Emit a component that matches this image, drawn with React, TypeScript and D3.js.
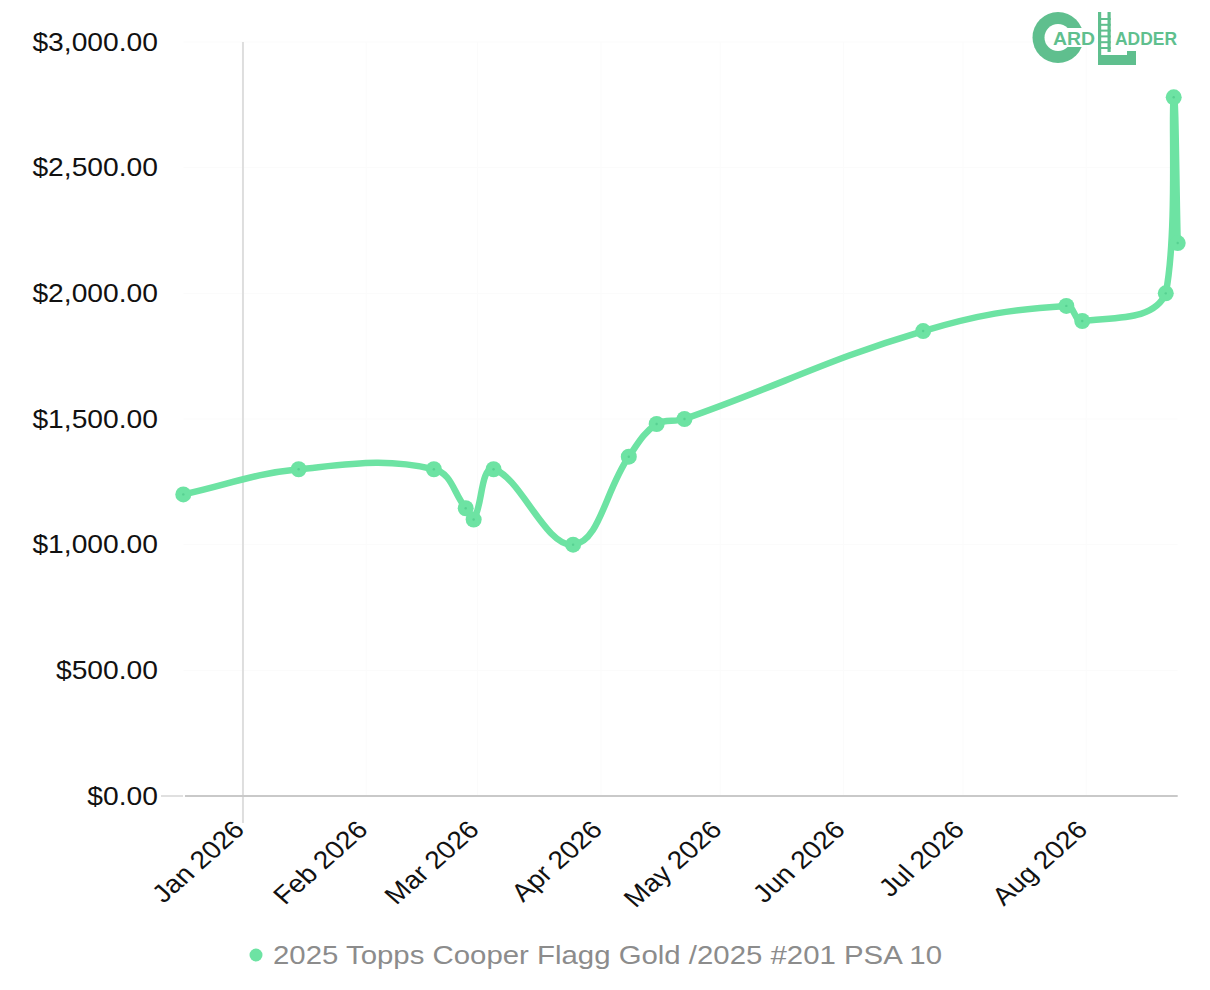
import React from 'react';
import * as d3 from 'd3';

const saleDates = ['2025-12-17', '2026-01-15', '2026-02-18', '2026-02-26', '2026-02-28', '2026-03-05', '2026-03-25', '2026-04-08', '2026-04-15', '2026-04-22', '2026-06-21', '2026-07-27', '2026-07-31', '2026-08-21', '2026-08-23', '2026-08-24'];
const salePrices = [1200, 1300, 1300, 1145, 1100, 1300, 1000, 1350, 1480, 1500, 1850, 1950, 1890, 2000, 2780, 2200];
const yTickValues = [0, 500, 1000, 1500, 2000, 2500, 3000];
const monthTickDates = ['2026-01-01', '2026-02-01', '2026-03-01', '2026-04-01', '2026-05-01', '2026-06-01', '2026-07-01', '2026-08-01'];
const seriesLabel = '2025 Topps Cooper Flagg Gold /2025 #201 PSA 10';

const W = 1210;
const H = 990;
const LEFT = 183.3;
const RIGHT = 1177.7;
const TOP = 42;
const BOTTOM = 796;
const SX = 1.13; // horizontal stretch of the reference rendering
const LINE = '#6de3a3';
const LOGO = '#5fbf8e';
const FONT = '"Liberation Sans", Arial, Helvetica, sans-serif';

const parse = d3.utcParse('%Y-%m-%d');

function chartJsCurve(tension: number) {
  return (context: any) => {
    let pts: [number, number][] = [];
    const cl = (v: number, lo: number, hi: number) => Math.max(lo, Math.min(hi, v));
    return {
      areaStart() {},
      areaEnd() {},
      lineStart() { pts = []; },
      point(x: number, y: number) { pts.push([+x, +y]); },
      lineEnd() {
        const n = pts.length;
        if (!n) return;
        const cps = pts.map((p, i) => {
          const prev = pts[i - 1] || p;
          const next = pts[i + 1] || p;
          const d01 = Math.hypot(p[0] - prev[0], p[1] - prev[1]);
          const d12 = Math.hypot(next[0] - p[0], next[1] - p[1]);
          let s01 = d01 / (d01 + d12);
          let s12 = d12 / (d01 + d12);
          if (isNaN(s01)) s01 = 0;
          if (isNaN(s12)) s12 = 0;
          const fa = tension * s01;
          const fb = tension * s12;
          return {
            prev: [cl(p[0] - fa * (next[0] - prev[0]), LEFT, RIGHT), cl(p[1] - fa * (next[1] - prev[1]), TOP, BOTTOM)],
            next: [cl(p[0] + fb * (next[0] - prev[0]), LEFT, RIGHT), cl(p[1] + fb * (next[1] - prev[1]), TOP, BOTTOM)],
          };
        });
        context.moveTo(pts[0][0], pts[0][1]);
        for (let i = 1; i < n; i++) {
          context.bezierCurveTo(cps[i - 1].next[0], cps[i - 1].next[1], cps[i].prev[0], cps[i].prev[1], pts[i][0], pts[i][1]);
        }
      },
    };
  };
}

export default function App() {
  const dates = saleDates.map((d) => parse(d) as Date);
  const data = dates.map((d, i) => ({ date: d, price: salePrices[i] }));
  const x = d3.scaleUtc().domain(d3.extent(dates) as [Date, Date]).range([LEFT, RIGHT]);
  const y = d3.scaleLinear().domain([0, 3000]).range([BOTTOM, TOP]);
  const months = monthTickDates.map((d) => parse(d) as Date);
  const fmtMoney = (v: number) => '$' + d3.format(',.2f')(v);
  const fmtMonth = d3.utcFormat('%b %Y');

  const line = d3.line<{ date: Date; price: number }>()
    .x((d) => x(d.date))
    .y((d) => y(d.price))
    .curve(chartJsCurve(0.4) as any);

  const cx = 1058;
  const cy = 37.5;
  const rungs = [18, 23.8, 29.6, 35.4, 41.2, 47];

  return (
    <svg width={W} height={H} style={{ position: 'absolute', left: 0, top: 0, background: '#fff' }}>
      <defs>
        <mask id="cmask">
          <rect x={1020} y={0} width={80} height={80} fill="#000" />
          <circle cx={cx} cy={cy} r={25.5} fill="#fff" />
          <circle cx={cx} cy={cy} r={13.5} fill="#000" />
          <rect x={cx} y={cy - 9.5} width={40} height={19} fill="#000" />
        </mask>
      </defs>

      {/* faint grid */}
      {yTickValues.map((v) => (
        <line key={'gy' + v} x1={LEFT} x2={RIGHT} y1={y(v)} y2={y(v)} stroke="#fbfbfb" strokeWidth={1} />
      ))}
      {months.slice(1).map((m, i) => (
        <line key={'gx' + i} x1={x(m)} x2={x(m)} y1={TOP} y2={BOTTOM} stroke="#fbfbfb" strokeWidth={1} />
      ))}

      {/* axis lines */}
      <line x1={x(months[0])} x2={x(months[0])} y1={TOP} y2={823} stroke="#dedede" strokeWidth={2} />
      <line x1={161} x2={183} y1={BOTTOM} y2={BOTTOM} stroke="#e0e0e0" strokeWidth={2} />
      <line x1={185} x2={RIGHT} y1={BOTTOM} y2={BOTTOM} stroke="#c9c9c9" strokeWidth={2} />

      {/* y labels */}
      {yTickValues.map((v) => (
        <text key={'yl' + v} transform={`translate(158,${y(v)}) scale(${SX},1)`} textAnchor="end" dy="0.35em"
          fontFamily={FONT} fontSize={25} fill="#111">{fmtMoney(v)}</text>
      ))}

      {/* x labels */}
      {months.map((m, i) => (
        <text key={'xl' + i} transform={`translate(${x(m) - 4},825) scale(${SX},1) rotate(-45)`} textAnchor="end" dy="0.35em"
          fontFamily={FONT} fontSize={25} fill="#111">{fmtMonth(m)}</text>
      ))}

      {/* series line */}
      <path d={line(data) || ''} fill="none" stroke={LINE} strokeWidth={6.5} strokeLinecap="round" strokeLinejoin="round" />
      {data.map((d, i) => (
        <g key={'pt' + i}>
          <circle cx={x(d.date)} cy={y(d.price)} r={8} fill={LINE} />
          <circle cx={x(d.date)} cy={y(d.price)} r={1.2} fill="#4fc98a" opacity={0.7} />
        </g>
      ))}

      {/* legend */}
      <circle cx={256} cy={955} r={6.5} fill={LINE} />
      <text transform={`translate(273,955) scale(${SX},1)`} dy="0.35em" fontFamily={FONT} fontSize={26} fill="#8c8c8c">{seriesLabel}</text>

      {/* logo */}
      <g>
        <rect x={1020} y={0} width={80} height={80} fill={LOGO} mask="url(#cmask)" />
        <text x={1053} y={45} fontFamily={FONT} fontWeight="bold" fontSize={18} fill={LOGO} textLength={42} lengthAdjust="spacingAndGlyphs">ARD</text>
        <rect x={1098} y={12} width={3.2} height={53} fill={LOGO} />
        <rect x={1107.5} y={12} width={3.2} height={40} fill={LOGO} />
        {rungs.map((ry) => (
          <rect key={'r' + ry} x={1098} y={ry} width={12.7} height={2} fill={LOGO} />
        ))}
        <rect x={1098} y={55} width={38} height={10} fill={LOGO} />
        <rect x={1127} y={51} width={9} height={5} fill={LOGO} />
        <text x={1115} y={45} fontFamily={FONT} fontWeight="bold" fontSize={17.5} fill={LOGO} textLength={62} lengthAdjust="spacingAndGlyphs">ADDER</text>
      </g>
    </svg>
  );
}
